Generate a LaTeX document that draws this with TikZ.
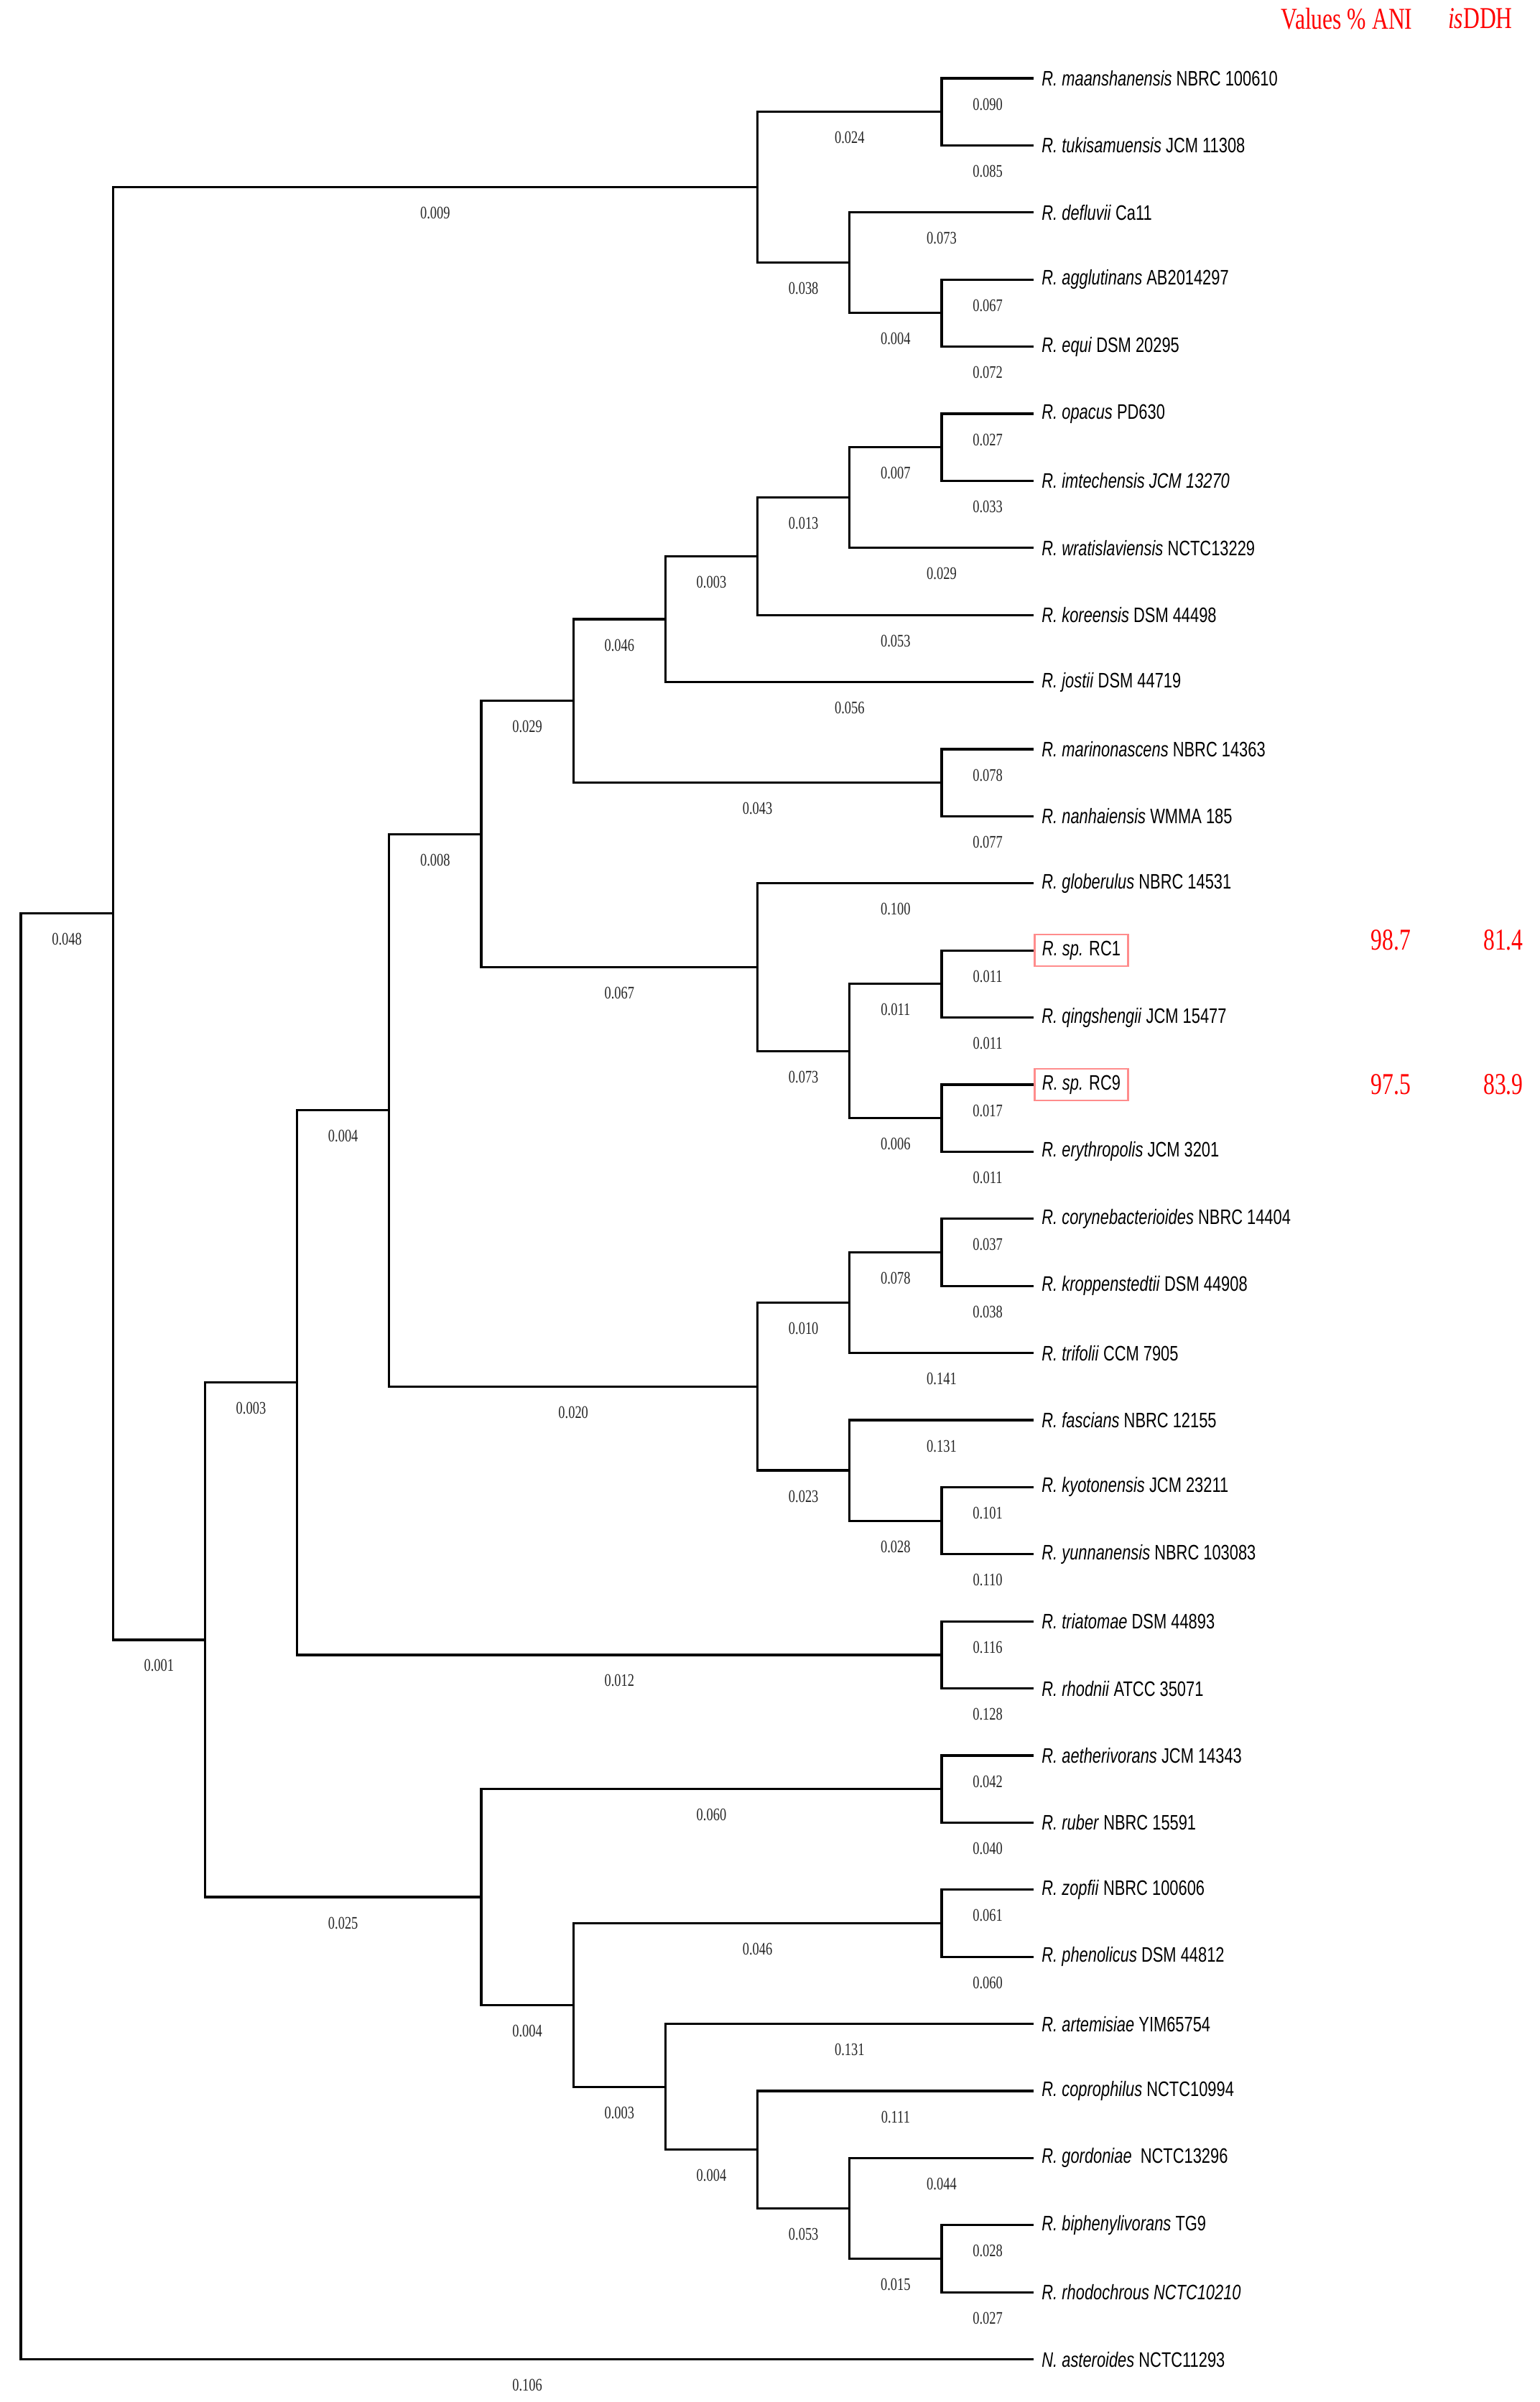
\documentclass[tikz,border=0pt]{standalone}
\usepackage{fontspec}
\newfontfamily\spfont[FakeStretch=0.75]{Liberation Sans}
\newfontfamily\lenfont[FakeStretch=0.75]{Liberation Serif}
\tikzset{
  br/.style={line width=0.9pt},
  blen/.style={pos=.75, yshift=-0.36cm, inner sep=0pt, text=black!85,
    font=\lenfont\fontsize{7}{8}\selectfont},
  leaf/.style={anchor=west, inner xsep=3pt, inner ysep=2.5pt,
    font=\spfont\fontsize{8.3}{9}\selectfont},
  hl/.style={draw=red!45, line width=0.7pt},
  val/.style={text=red, font=\lenfont\fontsize{12}{14}\selectfont}
}
\begin{document}
\begin{tikzpicture}[x=1.282cm,y=-0.934cm]
  % page frame (columns of 1.282cm, rows of 0.934cm)
  \useasboundingbox (-0.2262,-0.167) rectangle (16.4977,35.636);
  % leaves
  \foreach \r/\txt in {
    1/{\textit{R. maanshanensis} NBRC 100610},
    2/{\textit{R. tukisamuensis} JCM 11308},
    3/{\textit{R. defluvii} Ca11},
    4/{\textit{R. agglutinans} AB2014297},
    5/{\textit{R. equi} DSM 20295},
    6/{\textit{R. opacus} PD630},
    7/{\textit{R. imtechensis JCM 13270}},
    8/{\textit{R. wratislaviensis} NCTC13229},
    9/{\textit{R. koreensis} DSM 44498},
    10/{\textit{R. jostii} DSM 44719},
    11/{\textit{R. marinonascens} NBRC 14363},
    12/{\textit{R. nanhaiensis} WMMA 185},
    13/{\textit{R. globerulus} NBRC 14531},
    15/{\textit{R. qingshengii} JCM 15477},
    17/{\textit{R. erythropolis} JCM 3201},
    18/{\textit{R. corynebacterioides} NBRC 14404},
    19/{\textit{R. kroppenstedtii} DSM 44908},
    20/{\textit{R. trifolii} CCM 7905},
    21/{\textit{R. fascians} NBRC 12155},
    22/{\textit{R. kyotonensis} JCM 23211},
    23/{\textit{R. yunnanensis} NBRC 103083},
    24/{\textit{R. triatomae} DSM 44893},
    25/{\textit{R. rhodnii} ATCC 35071},
    26/{\textit{R. aetherivorans} JCM 14343},
    27/{\textit{R. ruber} NBRC 15591},
    28/{\textit{R. zopfii} NBRC 100606},
    29/{\textit{R. phenolicus} DSM 44812},
    30/{\textit{R. artemisiae} YIM65754},
    31/{\textit{R. coprophilus} NCTC10994},
    32/{\textit{R. gordoniae}\ \ NCTC13296},
    33/{\textit{R. biphenylivorans} TG9},
    34/{\textit{R. rhodochrous NCTC10210}},
    35/{\textit{N. asteroides} NCTC11293}}
  {
    \coordinate (t\r) at (11,\r);
    \node[leaf] (l\r) at (t\r) {\txt};
  }
  % the two new strains
  \coordinate (t14) at (11,14);
  \coordinate (t16) at (11,16);
  \node[leaf,hl] (l14) at (t14) {\textit{R. sp.} RC1};
  \node[leaf,hl] (l16) at (t16) {\textit{R. sp.} RC9};
  % inner nodes (column, mean row of the children)
  \coordinate (n1) at (10,1.5);
  \coordinate (n2) at (10,4.5);
  \coordinate (n3) at (9,3.75);
  \coordinate (n4) at (8,2.625);
  \coordinate (n5) at (10,6.5);
  \coordinate (n6) at (9,7.25);
  \coordinate (n7) at (8,8.125);
  \coordinate (n8) at (7,9.0625);
  \coordinate (n9) at (10,11.5);
  \coordinate (n10) at (6,10.2813);
  \coordinate (n11) at (10,14.5);
  \coordinate (n12) at (10,16.5);
  \coordinate (n13) at (9,15.5);
  \coordinate (n14) at (8,14.25);
  \coordinate (n15) at (5,12.2656);
  \coordinate (n16) at (10,18.5);
  \coordinate (n17) at (9,19.25);
  \coordinate (n18) at (10,22.5);
  \coordinate (n19) at (9,21.75);
  \coordinate (n20) at (8,20.5);
  \coordinate (n21) at (4,16.3828);
  \coordinate (n22) at (10,24.5);
  \coordinate (n23) at (3,20.4414);
  \coordinate (n24) at (10,26.5);
  \coordinate (n25) at (10,28.5);
  \coordinate (n26) at (10,33.5);
  \coordinate (n27) at (9,32.75);
  \coordinate (n28) at (8,31.875);
  \coordinate (n29) at (7,30.9375);
  \coordinate (n30) at (6,29.7188);
  \coordinate (n31) at (5,28.1094);
  \coordinate (n32) at (2,24.2754);
  \coordinate (n33) at (1,13.4502);
  \coordinate (root) at (0,24.2251);
  % branches with their lengths
  \foreach \a/\b/\v in {n1/t1/0.090, n1/t2/0.085, n2/t4/0.067, n2/t5/0.072,
    n3/t3/0.073, n3/n2/0.004, n4/n1/0.024, n4/n3/0.038,
    n5/t6/0.027, n5/t7/0.033, n6/n5/0.007, n6/t8/0.029,
    n7/n6/0.013, n7/t9/0.053, n8/n7/0.003, n8/t10/0.056,
    n9/t11/0.078, n9/t12/0.077, n10/n8/0.046, n10/n9/0.043,
    n11/t14/0.011, n11/t15/0.011, n12/t16/0.017, n12/t17/0.011,
    n13/n11/0.011, n13/n12/0.006, n14/t13/0.100, n14/n13/0.073,
    n15/n10/0.029, n15/n14/0.067,
    n16/t18/0.037, n16/t19/0.038, n17/n16/0.078, n17/t20/0.141,
    n18/t22/0.101, n18/t23/0.110, n19/t21/0.131, n19/n18/0.028,
    n20/n17/0.010, n20/n19/0.023, n21/n15/0.008, n21/n20/0.020,
    n22/t24/0.116, n22/t25/0.128, n23/n21/0.004, n23/n22/0.012,
    n24/t26/0.042, n24/t27/0.040, n25/t28/0.061, n25/t29/0.060,
    n26/t33/0.028, n26/t34/0.027, n27/t32/0.044, n27/n26/0.015,
    n28/t31/0.111, n28/n27/0.053, n29/t30/0.131, n29/n28/0.004,
    n30/n25/0.046, n30/n29/0.003, n31/n24/0.060, n31/n30/0.004,
    n32/n23/0.003, n32/n31/0.025, n33/n4/0.009, n33/n32/0.001,
    root/n33/0.048, root/t35/0.106}
    \draw[br] (\a) |- node[blen] {\v} (\b);
  % ANI and isDDH values
  \node[val] (hdani) at (14.40,0.11) {Values \% ANI};
  \node[val] (hdddh) at (15.85,0.11) {\textit{is}DDH};
  \node[val] (ani1) at (14.88,13.85) {98.7};
  \node[val] (ddh1) at (16.10,13.85) {81.4};
  \node[val] (ani2) at (14.88,16.0) {97.5};
  \node[val] (ddh2) at (16.10,16.0) {83.9};
\end{tikzpicture}
\end{document}
